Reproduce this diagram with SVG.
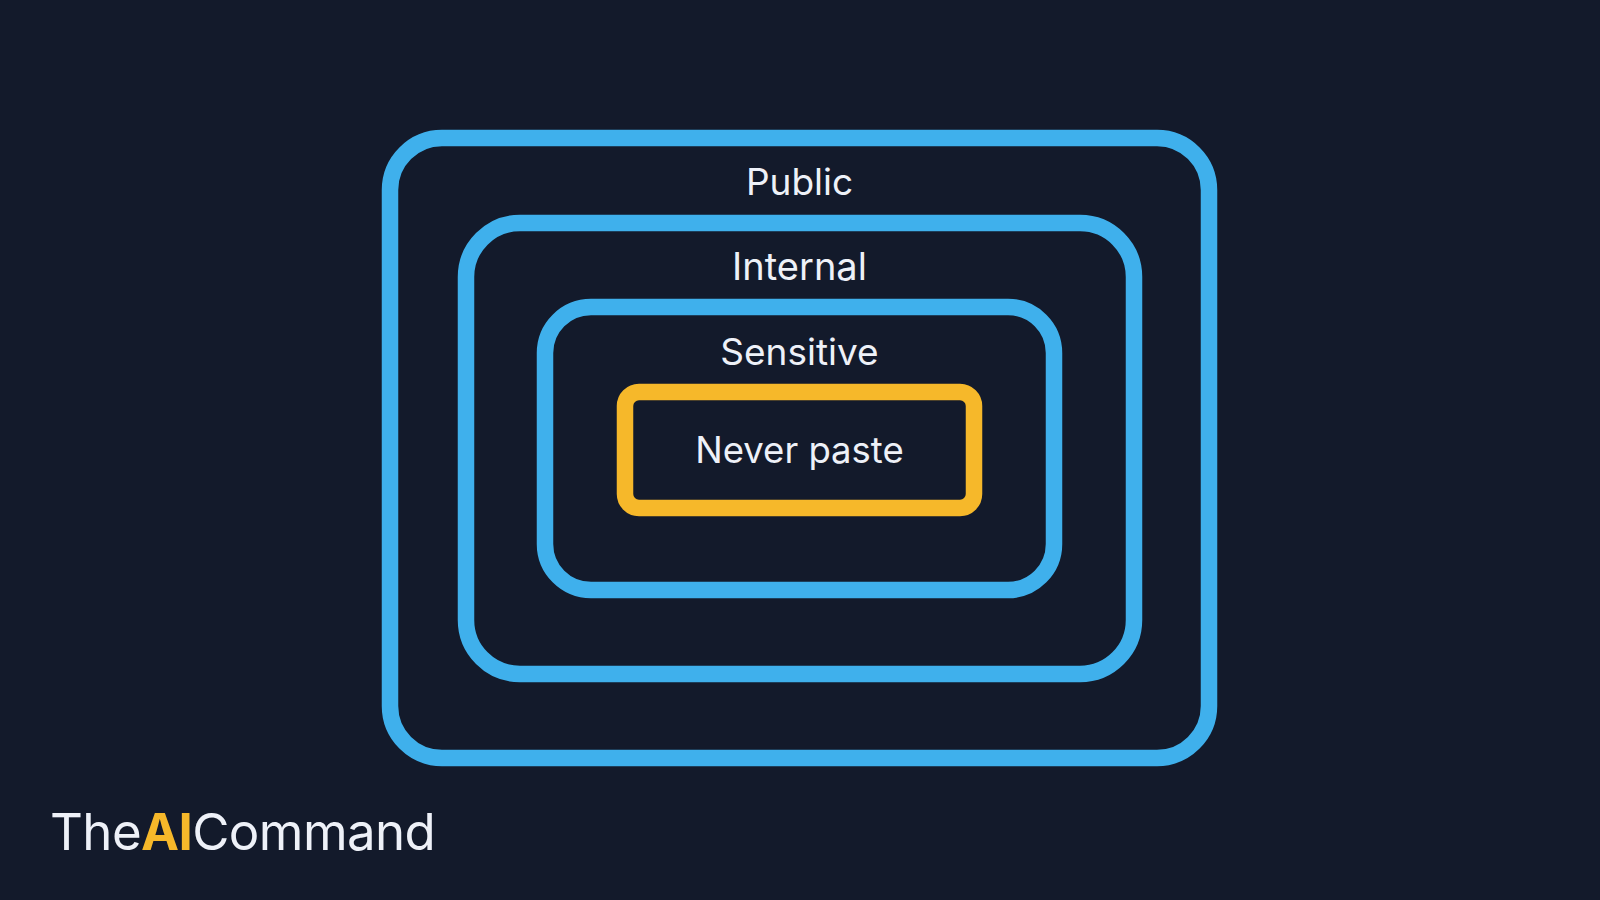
<svg xmlns="http://www.w3.org/2000/svg" width="1600" height="900" viewBox="0 0 1600 900">
<style>
.ring{fill:none;stroke:#3fb0ec;stroke-width:16.5}
.core{fill:none;stroke:#f6b82a;stroke-width:16.5}
.lbl{font-family:Inter,"Noto Sans","Liberation Sans",sans-serif;fill:#eef1f8;text-anchor:middle;font-weight:400}
.logo{font-family:Inter,"Noto Sans","Liberation Sans",sans-serif;font-size:51px;fill:#eef1f8;letter-spacing:-0.6px}
</style>
<rect width="1600" height="900" fill="#131a2b"/>
<g id="public">
<rect class="ring" x="390" y="138" width="819" height="620" rx="52"/>
<text class="lbl" x="799.5" y="195" font-size="37">Public</text>
</g>
<g id="internal">
<rect class="ring" x="466" y="223" width="668" height="451" rx="54"/>
<text class="lbl" x="799.5" y="280" font-size="38">Internal</text>
</g>
<g id="sensitive">
<rect class="ring" x="545" y="307" width="509" height="283" rx="46"/>
<text class="lbl" x="799.5" y="365" font-size="37">Sensitive</text>
</g>
<g id="never-paste">
<rect class="core" x="625" y="392" width="349" height="116" rx="14"/>
<text class="lbl" x="799.5" y="463" font-size="36.5">Never paste</text>
</g>
<g id="connectors"/>
<g id="logo">
<text class="logo" x="50" y="850">The<tspan fill="#f6b82a" font-weight="700">AI</tspan>Command</text>
</g>
</svg>
